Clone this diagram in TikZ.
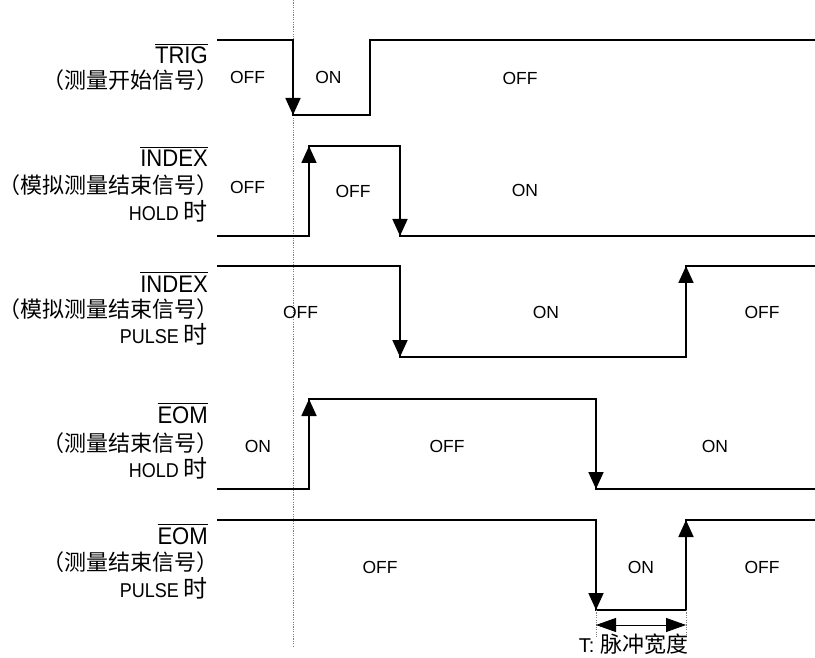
\documentclass[tikz,border=0pt]{standalone}
\usepackage{fontspec}
\setmainfont{Liberation Sans}
\newfontfamily\narrowsans[FakeStretch=0.92]{Liberation Sans}
\newfontfamily\modesans[FakeStretch=0.9]{Liberation Sans}
\newfontfamily\cjk[RawFeature=+halt]{Noto Sans CJK SC}
\usetikzlibrary{arrows.meta}
\newcommand\ovl[1]{\vbox{\hrule height 1pt\kern 2.2pt\hbox{#1}}}
\newcommand\zh[1]{{\fontsize{24}{26}\selectfont\cjk #1}}
\begin{document}
\begin{tikzpicture}[x=1pt,y=-1pt,
  wave/.style={line width=1.8pt, line join=miter},
  edgetip/.style={line width=1.8pt, -{Triangle[length=17pt,width=15pt]}},
  sig/.style={anchor=base east, inner sep=0pt, font=\fontsize{24}{26}\selectfont\narrowsans},
  sub/.style={anchor=base east, inner sep=0pt, font=\fontsize{22}{24}\selectfont\cjk},
  mode/.style={anchor=base east, inner sep=0pt, font=\fontsize{20}{22}\selectfont\modesans},
  st/.style={anchor=base, inner sep=0pt, font=\fontsize{17.5}{20}\selectfont},
  guide/.style={gray, line width=0.7pt, dash pattern=on 1.2pt off 1.2pt},
  dim/.style={line width=0.8pt, {Triangle[length=20pt,width=14pt]}-{Triangle[length=20pt,width=14pt]}}]
\useasboundingbox (0,0) rectangle (815,658);

% guide line
\coordinate (gtop) at (293,0);
\coordinate (gbot) at (293,646);
\draw[guide] (gtop) -- (gbot);

% ---- TRIG ----
\node[sig] (n1) at (208,63.5) {\ovl{TRIG}};
\node[sub] (s1) at (208,89) {（测量开始信号）};
\draw[wave] (217,40) -- (293,40) -- (293,115) -- (370,115) -- (370,40) -- (815,40);
\draw[edgetip] (293,80) -- (293,115);
\node[st] (a1) at (247.5,84) {OFF};
\node[st] (a2) at (328.5,84) {ON};
\node[st] (a3) at (520,85) {OFF};

% ---- INDEX HOLD ----
\node[sig] (n2) at (208,167) {\ovl{INDEX}};
\node[sub] (s2) at (208,194) {（模拟测量结束信号）};
\node[mode] (m2) at (208,221) {HOLD \zh{时}};
\draw[wave] (217,236) -- (309,236) -- (309,146) -- (400,146) -- (400,236) -- (815,236);
\draw[edgetip] (309,190) -- (309,146);
\draw[edgetip] (400,190) -- (400,236);
\node[st] (b1) at (247.5,194) {OFF};
\node[st] (b2) at (353,198) {OFF};
\node[st] (b3) at (525,197) {ON};

% ---- INDEX PULSE ----
\node[sig] (n3) at (208,292) {\ovl{INDEX}};
\node[sub] (s3) at (208,317) {（模拟测量结束信号）};
\node[mode] (m3) at (208,343) {PULSE \zh{时}};
\draw[wave] (217,266) -- (400,266) -- (400,357) -- (686,357) -- (686,266) -- (815,266);
\draw[edgetip] (400,310) -- (400,357);
\draw[edgetip] (686,310) -- (686,266);
\node[st] (c1) at (300.5,318) {OFF};
\node[st] (c2) at (546,318) {ON};
\node[st] (c3) at (762,318) {OFF};

% ---- EOM HOLD ----
\node[sig] (n4) at (208,423) {\ovl{EOM}};
\node[sub] (s4) at (208,451) {（测量结束信号）};
\node[mode] (m4) at (208,477.5) {HOLD \zh{时}};
\draw[wave] (217,489) -- (309,489) -- (309,399) -- (596,399) -- (596,489) -- (815,489);
\draw[edgetip] (309,440) -- (309,399);
\draw[edgetip] (596,440) -- (596,489);
\node[st] (d1) at (258,452.5) {ON};
\node[st] (d2) at (447,452) {OFF};
\node[st] (d3) at (715,452) {ON};

% ---- EOM PULSE ----
\node[sig] (n5) at (208,544) {\ovl{EOM}};
\node[sub] (s5) at (208,570) {（测量结束信号）};
\node[mode] (m5) at (208,597) {PULSE \zh{时}};
\draw[wave] (217,520) -- (596,520) -- (596,610) -- (686,610) -- (686,520) -- (815,520);
\draw[edgetip] (596,570) -- (596,610);
\draw[edgetip] (686,570) -- (686,520);
\node[st] (e1) at (380,573) {OFF};
\node[st] (e2) at (641,573) {ON};
\node[st] (e3) at (762,573) {OFF};

% ---- pulse width ----
\coordinate (p1) at (596,610);
\coordinate (p2) at (686,610);
\coordinate (q1) at (596,637);
\coordinate (q2) at (686,637);
\coordinate (t1) at (596,625);
\coordinate (t2) at (686,625);
\draw[guide] (p1) -- (q1);
\draw[guide] (p2) -- (q2);
\draw[dim] (t1) -- (t2);
\node[anchor=base, inner sep=0pt, font=\fontsize{20}{22}\selectfont] (tl) at (633.5,652) {T: {\fontsize{22}{24}\selectfont\cjk 脉冲宽度}};
\end{tikzpicture}
\end{document}
